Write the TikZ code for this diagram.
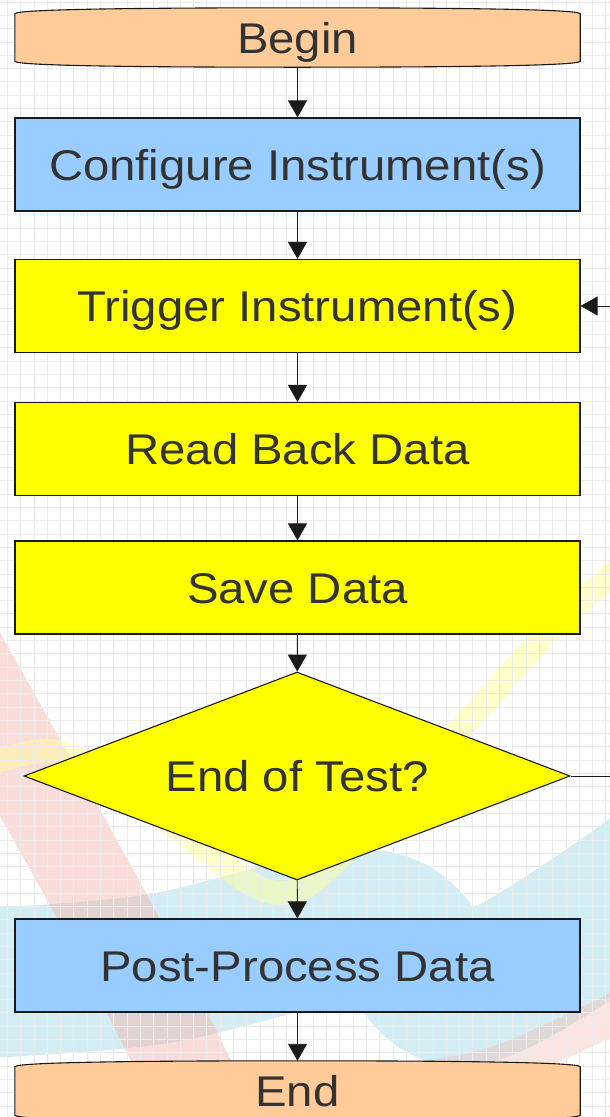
\documentclass[tikz,border=0pt]{standalone}
\usepackage{fontspec}
\setmainfont{Liberation Sans}[FakeStretch=1.1]
\usetikzlibrary{shapes.geometric,arrows.meta}
\definecolor{termfill}{HTML}{FFCC99}
\definecolor{bluefill}{HTML}{99CCFF}
\definecolor{yelfill}{HTML}{FFFF00}
\definecolor{txt}{HTML}{333333}
\definecolor{edge}{HTML}{1A1A1A}
\definecolor{gridc}{HTML}{EBEBEB}
\definecolor{bandred}{HTML}{F6B5AA}
\definecolor{bandcyan}{HTML}{A8DCEA}
\definecolor{bandyel}{HTML}{FFFF99}
\tikzset{
  lbl/.style={font=\fontsize{43}{46}\selectfont, text=txt, text height=31pt, text depth=0pt, inner sep=0pt},
  procbox/.style={lbl, rectangle, draw=edge, line width=1.1pt, minimum width=565pt, minimum height=93pt},
  termbox/.style={lbl, rectangle, minimum width=565pt},
  termshape/.style={draw=edge, line width=1.1pt, fill=termfill},
  decbox/.style={lbl, diamond, draw=edge, line width=1.1pt, fill=yelfill, minimum width=546pt, minimum height=208pt, shape aspect=2.625},
  flow/.style={draw=edge, line width=0.9pt, -{Triangle[length=17pt,width=19pt]}}
}
\begin{document}
\begin{tikzpicture}[x=1pt,y=-1pt]
\useasboundingbox (0,0) rectangle (610,1117);
\begin{scope}
\clip (0,0) rectangle (610,1117);
\fill[white] (0,0) rectangle (610,1117);
% decorative background bands
\draw[bandcyan, line width=150pt, opacity=0.5, line cap=round]
  plot[smooth, tension=0.6] coordinates {(-60,985) (150,970) (370,925) (470,990) (680,860)};
\draw[bandred, line width=90pt, opacity=0.45]
  plot[smooth, tension=0.6] coordinates {(-70,600) (20,760) (120,940) (220,1140)};
\draw[bandred, line width=40pt, opacity=0.35]
  plot[smooth, tension=0.6] coordinates {(380,1085) (500,1065) (660,990)};
\draw[bandyel, line width=24pt, opacity=0.5]
  plot[smooth, tension=0.6] coordinates {(650,545) (560,620) (467,722) (350,848) (272,892) (155,812) (58,752) (-30,772)};
% grid
\foreach \i in {0,...,46} {
  \draw[gridc, line width=0.8pt] ({7.3+13.3*\i},0) -- ({7.3+13.3*\i},1117);
}
\foreach \j in {0,...,85} {
  \draw[gridc, line width=0.8pt] (0,{2+13.3*\j}) -- (610,{2+13.3*\j});
}
\end{scope}

% terminal nodes (shape drawn around them)
\node[termbox, minimum height=59pt] (begin) at (297.5,37.5) {\phantom{Begin}};
\draw[termshape]
  ([yshift=-6pt]begin.north west) .. controls ([yshift=-1pt]begin.north west) and ([xshift=150pt]begin.north west) .. (begin.north)
  .. controls ([xshift=-150pt]begin.north east) and ([yshift=-1pt]begin.north east) .. ([yshift=-6pt]begin.north east)
  -- ([yshift=6pt]begin.south east) .. controls ([yshift=1pt]begin.south east) and ([xshift=-150pt]begin.south east) .. (begin.south)
  .. controls ([xshift=150pt]begin.south west) and ([yshift=1pt]begin.south west) .. ([yshift=6pt]begin.south west) -- cycle;
\node[lbl] at (begin) {Begin};

\node[termbox, minimum height=60pt] (end) at (297.5,1091) {\phantom{End}};
\draw[termshape]
  ([yshift=-6pt]end.north west) .. controls ([yshift=-1pt]end.north west) and ([xshift=150pt]end.north west) .. (end.north)
  .. controls ([xshift=-150pt]end.north east) and ([yshift=-1pt]end.north east) .. ([yshift=-6pt]end.north east)
  -- ([yshift=6pt]end.south east) .. controls ([yshift=1pt]end.south east) and ([xshift=-150pt]end.south east) .. (end.south)
  .. controls ([xshift=150pt]end.south west) and ([yshift=1pt]end.south west) .. ([yshift=6pt]end.south west) -- cycle;
\node[lbl] at (end) {End};

\node[procbox, fill=bluefill] (config) at (297.5,164.5) {Configure Instrument(s)};
\node[procbox, fill=yelfill] (trigger) at (297.5,306) {Trigger Instrument(s)};
\node[procbox, fill=yelfill] (read) at (297.5,449) {Read Back Data};
\node[procbox, fill=yelfill] (save) at (297.5,587.5) {Save Data};
\node[decbox] (eot) at (297,776) {End of Test?};
\node[procbox, fill=bluefill] (post) at (297.5,965.5) {Post-Process Data};

\draw[flow] (begin) -- (config);
\draw[flow] (config) -- (trigger);
\draw[flow] (trigger) -- (read);
\draw[flow] (read) -- (save);
\draw[flow] (save) -- (eot);
\draw[flow] (eot) -- (post);
\draw[flow] (post) -- (end);

\begin{scope}
\clip (0,0) rectangle (610,1117);
\coordinate (loopA) at (640,776);
\coordinate (loopB) at (640,306);
\draw[flow] (eot.east) -- (loopA) -- (loopB) -- (trigger.east);
\end{scope}
\end{tikzpicture}
\end{document}
